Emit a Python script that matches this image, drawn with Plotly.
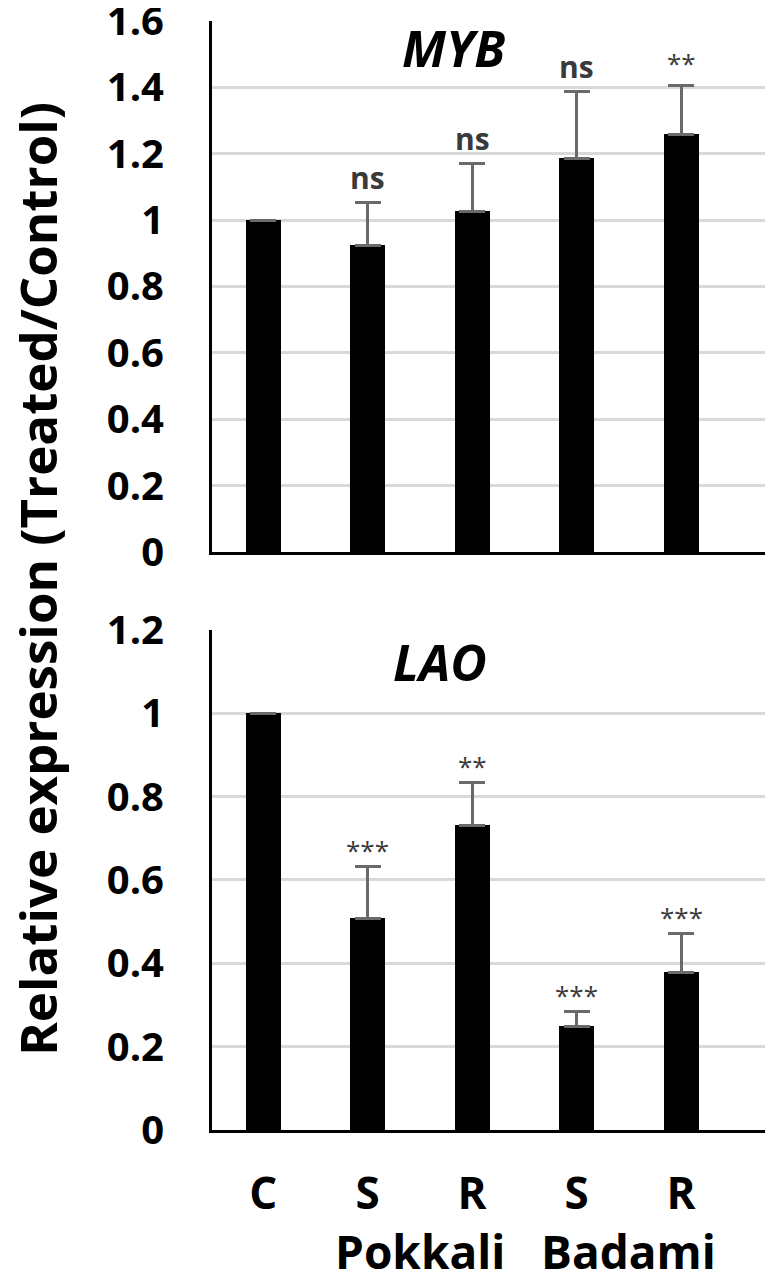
import plotly.graph_objects as go
from plotly.subplots import make_subplots

categories = ["C", "S", "R", "S", "R"]
groups = ["Pokkali", "Badami"]

myb_values = [1.0, 0.925, 1.027, 1.187, 1.259]
myb_err = [0.0, 0.129, 0.145, 0.202, 0.148]
myb_sig = ["", "ns", "ns", "ns", "**"]

lao_values = [1.0, 0.508, 0.731, 0.249, 0.379]
lao_err = [0.0, 0.125, 0.103, 0.036, 0.093]
lao_sig = ["", "***", "**", "***", "***"]

FONT = "Open Sans"
x = list(range(len(categories)))

fig = make_subplots(rows=2, cols=1, shared_xaxes=False, vertical_spacing=0.0)

def add_panel(vals, errs, row):
    fig.add_trace(go.Bar(
        x=x, y=vals, width=0.335,
        marker=dict(color="black", line=dict(width=0)),
        error_y=dict(type="data", array=errs, arrayminus=[0]*len(errs), symmetric=False,
                     color="#6a6a6a", thickness=3, width=13),
        showlegend=False), row=row, col=1)

add_panel(myb_values, myb_err, 1)
add_panel(lao_values, lao_err, 2)

fig.update_layout(
    width=765, height=1268,
    margin=dict(l=204, r=0, t=13, b=146, autoexpand=False),
    plot_bgcolor="white", paper_bgcolor="white",
    bargap=0,
    font=dict(family=FONT, color="black"),
    yaxis=dict(domain=[0.5212, 1.0]),
    yaxis2=dict(domain=[0.0, 0.4509]),
)

for r, rng in [(1, [0, 1.6]), (2, [0, 1.2])]:
    fig.update_yaxes(range=rng, dtick=0.2, showgrid=True, gridcolor="#d9d9d9", gridwidth=3,
                     zeroline=False, showline=True, linecolor="black", linewidth=3,
                     ticks="", ticklabelstandoff=37, ticklabeloverflow="allow",
                     tickfont=dict(family=FONT, size=40, weight="bold", color="black"),
                     row=r, col=1)
    fig.update_xaxes(range=[-0.49, 4.88], showgrid=False, zeroline=False, showline=True,
                     linecolor="black", linewidth=3, row=r, col=1)

fig.update_xaxes(showticklabels=False, row=1, col=1)
fig.update_xaxes(tickmode="array", tickvals=x, ticktext=categories,
                 ticks="outside", ticklen=23, tickcolor="rgba(0,0,0,0)",
                 tickfont=dict(family=FONT, size=44, weight="bold", color="black"),
                 row=2, col=1)

ann = []
for i, (v, e, s) in enumerate(zip(myb_values, myb_err, myb_sig)):
    if s:
        ann.append(dict(x=i, y=v + e, xref="x", yref="y", text=s, showarrow=False,
                        yanchor="bottom", yshift=2,
                        font=dict(family=FONT, size=30 if s == "ns" else 26,
                                  weight="bold" if s == "ns" else "normal", color="#3a3a3a")))
for i, (v, e, s) in enumerate(zip(lao_values, lao_err, lao_sig)):
    if s:
        ann.append(dict(x=i, y=v + e, xref="x2", yref="y2", text=s, showarrow=False,
                        yanchor="bottom", yshift=-4,
                        font=dict(family=FONT, size=26, color="#3a3a3a")))

ann.append(dict(x=1.82, y=1.52, xref="x", yref="y", text="<b><i>MYB</i></b>", showarrow=False,
                xanchor="center", yanchor="middle",
                font=dict(family=FONT, size=50, color="black")))
ann.append(dict(x=1.69, y=1.122, xref="x2", yref="y2", text="<b><i>LAO</i></b>", showarrow=False,
                xanchor="center", yanchor="middle",
                font=dict(family=FONT, size=50, color="black")))

for gi, g in enumerate(groups):
    ann.append(dict(x=1.5 + 2 * gi, y=-0.109, xref="x2", yref="paper", text=g, showarrow=False,
                    xanchor="center", yanchor="middle",
                    font=dict(family=FONT, size=46, weight="bold", color="black")))

ann.append(dict(x=(37 - 212) / 561, y=0.497, xref="paper", yref="paper", textangle=-90,
                xanchor="center", yanchor="middle",
                text="Relative expression (Treated/Control)", showarrow=False,
                font=dict(family=FONT, size=51, weight="bold", color="black")))

fig.update_layout(annotations=ann)

fig.write_html("out.html")
